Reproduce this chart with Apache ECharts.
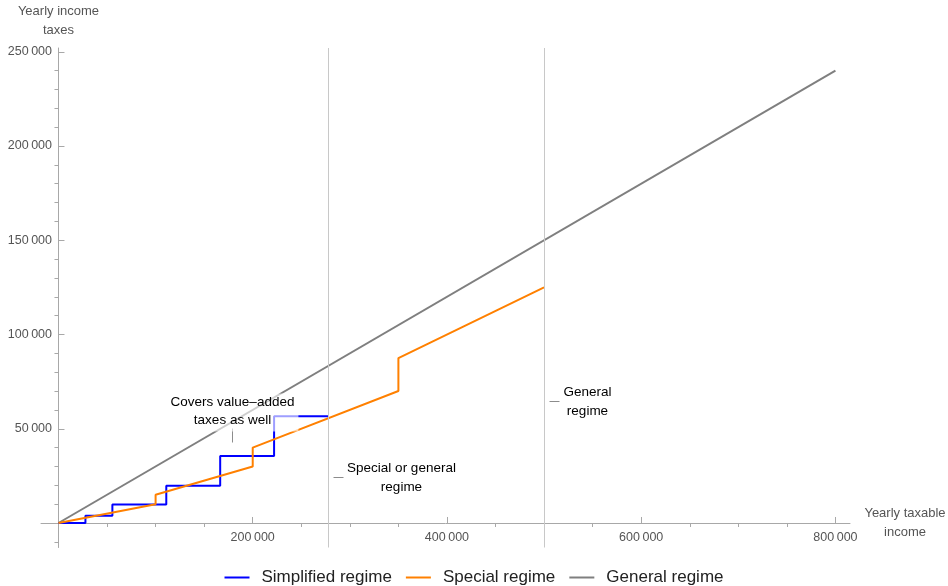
<!DOCTYPE html>
<html><head><meta charset="utf-8">
<script src="https://cdn.jsdelivr.net/npm/echarts@6/dist/echarts.min.js"></script>
<style>html,body{margin:0;padding:0;background:#fff}#c{width:948px;height:586px}</style>
</head><body><div id="c"></div>
<script>
// ---- data ----
const simplifiedIncome = [0, 27750, 55500, 111000, 166500, 222000, 277500];
const simplifiedTax    = [0, 3900, 9800, 19700, 35500, 56600, 56600];
const specialIncome = [0, 100000, 100000, 200000, 200000, 350000, 350000, 500000];
const specialTax    = [0, 10000, 15000, 30000, 40000, 70000, 87500, 125000];
const generalIncome = [0, 800000];
const generalTax    = [0, 240000];
const regimeBoundaries = [277500, 500000];
const xMajorTicks = [200000, 400000, 600000, 800000];
const xMinorTicks = [50000, 100000, 150000, 250000, 300000, 350000, 450000, 500000, 550000, 650000, 700000, 750000];
const yMajorTicks = [50000, 100000, 150000, 200000, 250000];
const yMinorTicks = [-10000, 10000, 20000, 30000, 40000, 60000, 70000, 80000, 90000, 110000, 120000, 130000, 140000,
                     160000, 170000, 180000, 190000, 210000, 220000, 230000, 240000];
const annotationText = ['Covers value\u2013added\ntaxes as well', 'Special or general\nregime', 'General\nregime'];
const annotationAnchor = [[179000, 43000], [283000, 24400], [505400, 64750]];

const FONT = '"Liberation Sans", Arial, sans-serif';
const AX = '#a8a8a8';
const fmt = v => String(v).replace(/\B(?=(\d{3})+(?!\d))/g, '\u2009');

const chart = echarts.init(document.getElementById('c'), null, {renderer: 'canvas'});

function majorAxis(extra) {
  return Object.assign({
    type: 'value',
    splitLine: {show: false},
    axisLine: {show: true, onZero: true, onZeroAxisIndex: 0, lineStyle: {color: AX, width: 1}}
  }, extra);
}

const option = {
  animation: false,
  backgroundColor: '#fff',
  textStyle: {fontFamily: FONT},
  grid: {left: 41, right: 98, top: 48, bottom: 38.5, containLabel: false, outerBoundsMode: 'none'},
  legend: {
    top: 564, left: 'center', icon: 'rect', itemWidth: 25, itemHeight: 2, itemGap: 14,
    textStyle: {fontSize: 17, color: '#222', fontFamily: FONT, padding: [0, 0, 0, 7]},
    data: ['Simplified regime', 'Special regime', 'General regime']
  },
  xAxis: [
    majorAxis({
      min: -18000, max: 815000,
      axisTick: {show: true, inside: true, length: 6, customValues: xMajorTicks, lineStyle: {color: AX}},
      axisLabel: {customValues: xMajorTicks, formatter: fmt, color: '#555', fontSize: 12.5, margin: -16, fontFamily: FONT},
      name: 'Yearly taxable\nincome', nameLocation: 'end', nameGap: 55,
      nameTextStyle: {color: '#555', fontSize: 13, fontFamily: FONT, align: 'center', verticalAlign: 'middle', lineHeight: 19, padding: [0, 0, 3, 0]}
    }),
    {
      type: 'value', min: -18000, max: 815000, splitLine: {show: false},
      axisLine: {show: false, onZero: true, onZeroAxisIndex: 1},
      axisTick: {show: true, inside: true, length: 4, customValues: xMinorTicks, lineStyle: {color: AX}},
      axisLabel: {show: false}
    }
  ],
  yAxis: [
    majorAxis({
      min: -13000, max: 252000,
      axisTick: {show: true, inside: true, length: 6, customValues: yMajorTicks, lineStyle: {color: AX}},
      axisLabel: {customValues: yMajorTicks, formatter: fmt, color: '#555', fontSize: 12.5, margin: -11, fontFamily: FONT},
      name: 'Yearly income\ntaxes', nameLocation: 'end', nameGap: 8,
      nameTextStyle: {color: '#555', fontSize: 13, fontFamily: FONT, align: 'center', lineHeight: 19}
    }),
    {
      type: 'value', min: -13000, max: 252000, splitLine: {show: false},
      axisLine: {show: false, onZero: true, onZeroAxisIndex: 1},
      axisTick: {show: true, inside: true, length: 4, customValues: yMinorTicks, lineStyle: {color: AX}},
      axisLabel: {show: false}
    }
  ],
  series: [
    {
      name: 'Simplified regime', type: 'line', step: 'end', symbol: 'none', z: 3,
      data: simplifiedIncome.map((x, i) => [x, simplifiedTax[i]]),
      lineStyle: {color: '#0000ff', width: 2}, itemStyle: {color: '#0000ff'}
    },
    {
      name: 'Special regime', type: 'line', symbol: 'none', z: 4,
      data: specialIncome.map((x, i) => [x, specialTax[i]]),
      lineStyle: {color: '#ff8000', width: 2}, itemStyle: {color: '#ff8000'}
    },
    {
      name: 'General regime', type: 'line', symbol: 'none', z: 2,
      data: generalIncome.map((x, i) => [x, generalTax[i]]),
      lineStyle: {color: '#7f7f7f', width: 2}, itemStyle: {color: '#7f7f7f'},
      markLine: {
        silent: true, symbol: ['none', 'none'], label: {show: false},
        lineStyle: {color: '#c8c8c8', type: 'solid', width: 1},
        data: regimeBoundaries.map(v => ({xAxis: v}))
      }
    }
  ]
};
chart.setOption(option);

// ---- annotations (callouts), anchored in data coordinates ----
const px = d => chart.convertToPixel({xAxisIndex: 0, yAxisIndex: 0}, d).map(v => Math.round(v) + 0.5);
const a1 = px(annotationAnchor[0]), a2 = px(annotationAnchor[1]), a3 = px(annotationAnchor[2]);
const tStyle = (text, x, y, align, valign, extra) => Object.assign({
  text, x, y, fill: '#000', font: '13.5px ' + FONT,
  textAlign: align, align: align, textVerticalAlign: valign, verticalAlign: valign, lineHeight: 19
}, extra || {});
const LC = '#8c8c8c';
chart.setOption({
  graphic: [
    {type: 'line', z: 100, shape: {x1: a1[0], y1: a1[1], x2: a1[0], y2: a1[1] - 14}, style: {stroke: LC, lineWidth: 1}},
    {type: 'text', z: 101, style: tStyle(annotationText[0], a1[0], a1[1] - 11, 'center', 'bottom',
        {lineHeight: 18, backgroundColor: 'rgba(255,255,255,0.62)', padding: [0, 4, 2, 4]})},
    {type: 'line', z: 100, shape: {x1: a2[0], y1: a2[1], x2: a2[0] + 10, y2: a2[1]}, style: {stroke: LC, lineWidth: 1}},
    {type: 'text', z: 101, style: tStyle(annotationText[1], a2[0] + 68, a2[1], 'center', 'middle')},
    {type: 'line', z: 100, shape: {x1: a3[0], y1: a3[1], x2: a3[0] + 10, y2: a3[1]}, style: {stroke: LC, lineWidth: 1}},
    {type: 'text', z: 101, style: tStyle(annotationText[2], a3[0] + 38, a3[1], 'center', 'middle')}
  ]
});
</script>
</body></html>
